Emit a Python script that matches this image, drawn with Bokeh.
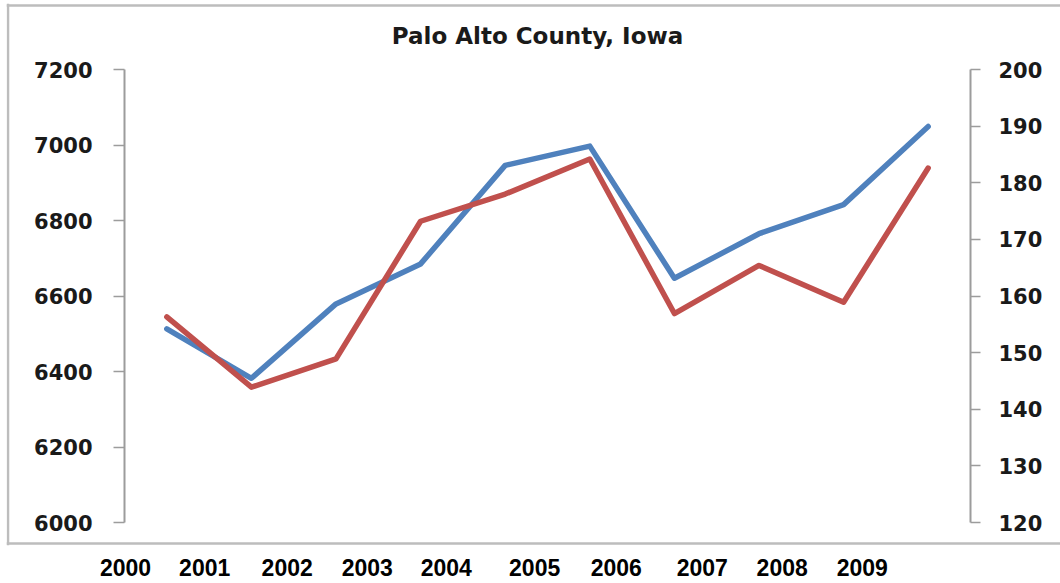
from bokeh.plotting import figure
from bokeh.models import Range1d, LinearAxis, FixedTicker, Span, Label
from bokeh.embed import file_html
from bokeh.resources import INLINE

# ---- data ----
years = ["2000", "2001", "2002", "2003", "2004", "2005", "2006", "2007", "2008", "2009"]
left_values = [6513, 6382, 6579, 6685, 6946, 6997, 6647, 6765, 6842, 7049]      # blue, left axis
right_values = [156.3, 143.9, 148.9, 173.2, 178.0, 184.2, 156.9, 165.4, 158.9, 182.6]  # red, right axis
left_ticks = [6000, 6200, 6400, 6600, 6800, 7000, 7200]
right_ticks = [120, 130, 140, 150, 160, 170, 180, 190, 200]
# where the year labels sit along the category axis (they are not centred on the points)
year_label_pos = [-0.488, 0.448, 1.423, 2.369, 3.304, 4.348, 5.313, 6.329, 7.274, 8.220]
title_text = "Palo Alto County, Iowa"

x_idx = list(range(len(years)))

BLUE = "#4F81BD"
RED = "#C0504D"
AXIS_GRAY = "#9c9c9c"
BORDER_GRAY = "#bdbdbd"

# ---- layout (pixels on the 1060x583 canvas) ----
W, H = 1060, 583
FRAME_L, FRAME_R, FRAME_T, FRAME_B = 6, 1060, 3, 545     # drawing area (holds the chart box)
AX_L, AX_R, AX_T, AX_B = 124, 970, 69, 522               # where the value axes sit
X_LO, X_HI = -0.5, len(years) - 0.5                      # category span between the value axes


def px_to_x(px):
    return X_LO + (px - AX_L) / (AX_R - AX_L) * (X_HI - X_LO)


def py_to(py, lo, hi):
    return lo + (AX_B - py) / (AX_B - AX_T) * (hi - lo)


L_LO, L_HI = left_ticks[0], left_ticks[-1]
R_LO, R_HI = right_ticks[0], right_ticks[-1]

p = figure(width=W, height=H, output_backend="svg", toolbar_location=None,
           x_range=Range1d(px_to_x(FRAME_L), px_to_x(FRAME_R)),
           y_range=Range1d(py_to(FRAME_B, L_LO, L_HI), py_to(FRAME_T, L_LO, L_HI)),
           min_border_left=FRAME_L, min_border_right=W - FRAME_R,
           min_border_top=FRAME_T, min_border_bottom=H - FRAME_B)
p.outline_line_color = None
p.grid.visible = False
p.background_fill_color = "white"
p.border_fill_color = "white"
p.extra_y_ranges = {"right": Range1d(py_to(FRAME_B, R_LO, R_HI), py_to(FRAME_T, R_LO, R_HI))}

# chart box: left, top and bottom edges (right edge lies outside the picture)
p.add_layout(Span(location=px_to_x(7.5), dimension="height",
                  line_color=BORDER_GRAY, line_width=2.5))
p.add_layout(Span(location=py_to(5, L_LO, L_HI), dimension="width",
                  line_color=BORDER_GRAY, line_width=2.5))
p.add_layout(Span(location=py_to(543, L_LO, L_HI), dimension="width",
                  line_color=BORDER_GRAY, line_width=2.5))

# title (inside the chart box)
p.add_layout(Label(x=px_to_x(537), y=py_to(35, L_LO, L_HI), text=title_text,
                   text_align="center", text_baseline="middle",
                   text_font="DejaVu Sans", text_font_size="23px",
                   text_font_style="bold", text_color="#1a1a1a"))

# left axis
ya = p.yaxis[0]
ya.fixed_location = X_LO
ya.bounds = (L_LO, L_HI)
ya.ticker = FixedTicker(ticks=left_ticks)
ya.axis_line_color = AXIS_GRAY
ya.axis_line_width = 2
ya.major_tick_line_color = AXIS_GRAY
ya.major_tick_line_width = 1.5
ya.major_tick_out = 11
ya.major_tick_in = 0
ya.minor_tick_line_color = None
ya.major_label_standoff = 21
ya.major_label_text_font = "DejaVu Sans"
ya.major_label_text_font_style = "bold"
ya.major_label_text_font_size = "21px"
ya.major_label_text_color = "#1a1a1a"

# right axis
ra = LinearAxis(y_range_name="right", ticker=FixedTicker(ticks=right_ticks),
                fixed_location=X_HI, bounds=(R_LO, R_HI))
ra.axis_line_color = AXIS_GRAY
ra.axis_line_width = 2
ra.major_tick_line_color = AXIS_GRAY
ra.major_tick_line_width = 1.5
ra.major_tick_out = 10
ra.major_tick_in = 0
ra.minor_tick_line_color = None
ra.major_label_standoff = 18
ra.major_label_text_font = "DejaVu Sans"
ra.major_label_text_font_style = "bold"
ra.major_label_text_font_size = "21px"
ra.major_label_text_color = "#1a1a1a"
p.add_layout(ra, "right")

# bottom axis: year labels only, below the chart box
xa = p.xaxis[0]
xa.ticker = FixedTicker(ticks=year_label_pos)
xa.major_label_overrides = {pos: yr for pos, yr in zip(year_label_pos, years)}
xa.axis_line_color = None
xa.major_tick_line_color = None
xa.minor_tick_line_color = None
xa.major_tick_out = 0
xa.major_tick_in = 0
xa.major_label_standoff = 13
xa.major_label_text_font = "Liberation Sans"
xa.major_label_text_font_style = "bold"
xa.major_label_text_font_size = "23px"
xa.major_label_text_color = "black"

# series
p.line(x_idx, left_values, line_color=BLUE, line_width=5.5,
       line_join="round", line_cap="round")
p.line(x_idx, right_values, y_range_name="right", line_color=RED, line_width=5.5,
       line_join="round", line_cap="round")

open("out.html", "w").write(file_html(p, INLINE))
